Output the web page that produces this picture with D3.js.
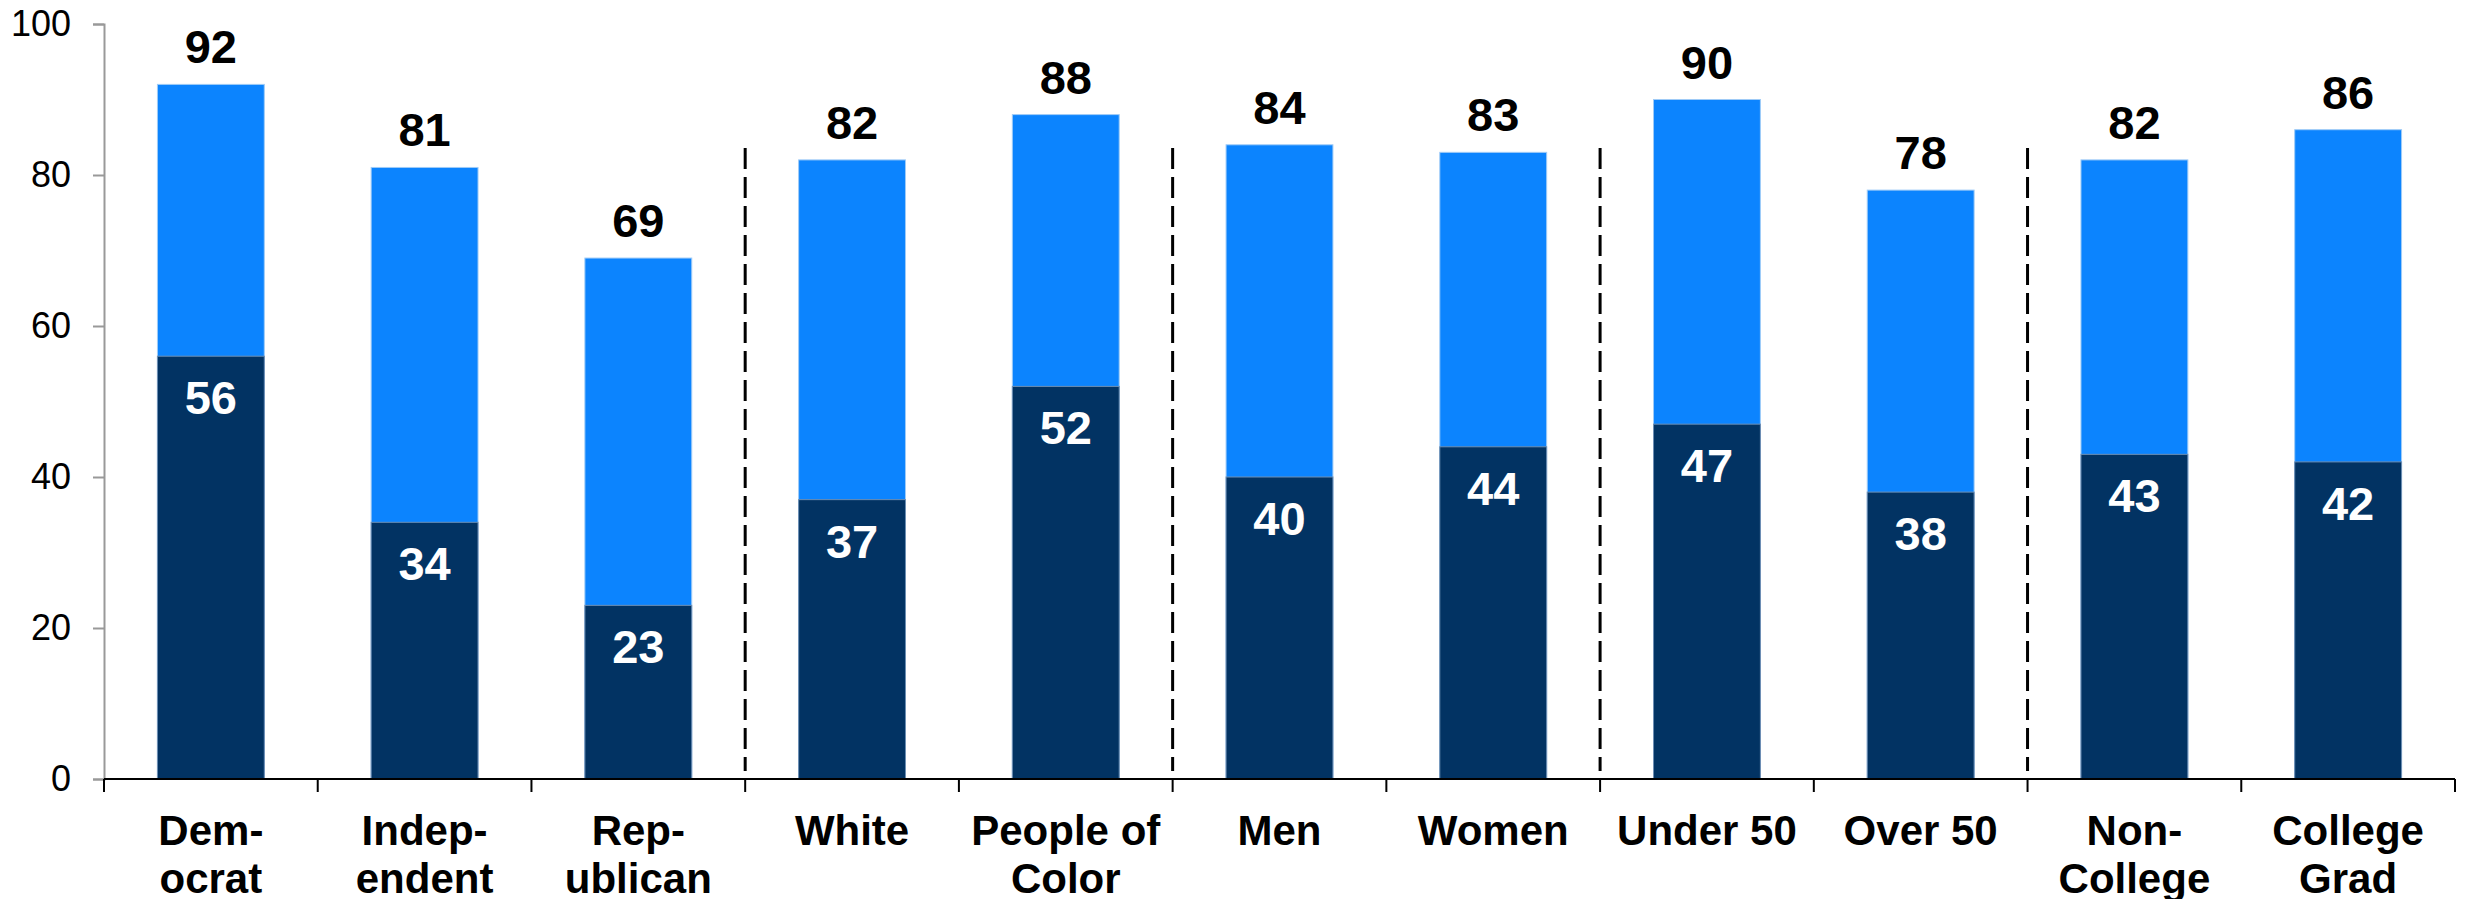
<!DOCTYPE html>
<html>
<head>
<meta charset="utf-8">
<script src="https://cdn.jsdelivr.net/npm/d3@7"></script>
<style>
  body { margin: 0; background: #fff; }
  svg { display: block; font-family: "Liberation Sans", Arial, sans-serif; }
</style>
</head>
<body>
<div id="chart"></div>
<script>
// categories, each label split into its lines
var categories = ["Democrat", "Independent", "Republican", "White", "People of Color",
                  "Men", "Women", "Under 50", "Over 50", "Non-College", "College Grad"]
var labelLines = [["Dem-", "ocrat"], ["Indep-", "endent"], ["Rep-", "ublican"], ["White"],
                  ["People of", "Color"], ["Men"], ["Women"], ["Under 50"], ["Over 50"],
                  ["Non-", "College"], ["College", "Grad"]]
var totals = [92, 81, 69, 82, 88, 84, 83, 90, 78, 82, 86]   // light bar, full height
var strong = [56, 34, 23, 37, 52, 40, 44, 47, 38, 43, 42]   // dark part
var yTicks = [0, 20, 40, 60, 80, 100]
var dividersAfter = [2, 4, 6, 8]   // dashed separators after these categories

var W = 2473, H = 899
var margin = {top: 24, right: 18, bottom: 120, left: 104}

var svg = d3.select("#chart").append("svg")
            .attr("width", W)
            .attr("height", H)

var x = d3.scaleBand()
          .domain(categories)
          .range([margin.left, W - margin.right])
          .paddingInner(0.5)
          .paddingOuter(0.25)

var y = d3.scaleLinear()
          .domain([0, 100])
          .range([H - margin.bottom, margin.top])

//y axis
var yAxis = svg.append("g")
               .attr("transform", `translate(${margin.left},0)`)
               .call(d3.axisLeft(y).tickValues(yTicks).tickSize(11).tickPadding(22))
yAxis.select(".domain").attr("stroke", "#999").attr("stroke-width", 2)
yAxis.selectAll(".tick line").attr("stroke", "#999").attr("stroke-width", 2)
yAxis.selectAll(".tick text")
     .style("font-size", "36px")
     .style("font-family", "Liberation Sans, Arial, sans-serif")
     .attr("fill", "#000")

//bars: light total first, dark part on top of it
var groups = svg.append("g").selectAll("g")
                .data(categories)
                .enter()
                .append("g")

groups.append("rect")
      .attr("x", function(d){ return x(d) })
      .attr("width", x.bandwidth())
      .attr("y", function(d,i){ return y(totals[i]) })
      .attr("height", function(d,i){ return y(0) - y(totals[i]) })
      .style("fill", "#0c84fe")
      .style("stroke", "#9fcbf7")
      .style("stroke-width", 1)

groups.append("rect")
      .attr("x", function(d){ return x(d) })
      .attr("width", x.bandwidth())
      .attr("y", function(d,i){ return y(strong[i]) })
      .attr("height", function(d,i){ return y(0) - y(strong[i]) })
      .style("fill", "#023363")
      .style("stroke", "#6f8fb3")
      .style("stroke-width", 1)

//value labels
groups.append("text")
      .text(function(d,i){ return totals[i] })
      .attr("x", function(d){ return x(d) + x.bandwidth() / 2 })
      .attr("y", function(d,i){ return y(totals[i]) - 21 })
      .attr("text-anchor", "middle")
      .style("font-size", "47px")
      .style("font-weight", "bold")
      .style("fill", "#000")

groups.append("text")
      .text(function(d,i){ return strong[i] })
      .attr("x", function(d){ return x(d) + x.bandwidth() / 2 })
      .attr("y", function(d,i){ return y(strong[i]) + 58 })
      .attr("text-anchor", "middle")
      .style("font-size", "47px")
      .style("font-weight", "bold")
      .style("fill", "#fff")

//dashed separators
svg.append("g").selectAll("line")
   .data(dividersAfter)
   .enter()
   .append("line")
   .attr("x1", function(d){ return x(categories[d]) + x.step() * 0.75 })
   .attr("x2", function(d){ return x(categories[d]) + x.step() * 0.75 })
   .attr("y1", 148)
   .attr("y2", y(0) - 8)
   .style("stroke", "#000")
   .style("stroke-width", 3)
   .style("stroke-dasharray", "21,8")

//x axis with ticks on category boundaries
var boundaries = d3.range(categories.length + 1).map(function(i){
  return margin.left + i * x.step()
})
svg.append("line")
   .attr("x1", margin.left)
   .attr("x2", boundaries[boundaries.length - 1])
   .attr("y1", y(0))
   .attr("y2", y(0))
   .style("stroke", "#000")
   .style("stroke-width", 2)
svg.append("g").selectAll("line")
   .data(boundaries)
   .enter()
   .append("line")
   .attr("x1", function(d){ return d })
   .attr("x2", function(d){ return d })
   .attr("y1", y(0))
   .attr("y2", y(0) + 13)
   .style("stroke", "#000")
   .style("stroke-width", 2)

//category labels
var catLabels = svg.append("g").selectAll("text")
                   .data(categories)
                   .enter()
                   .append("text")
                   .attr("text-anchor", "middle")
                   .style("font-size", "42px")
                   .style("font-weight", "bold")
                   .style("fill", "#000")

catLabels.selectAll("tspan")
         .data(function(d,i){ return labelLines[i].map(function(t){ return {t: t, c: d} }) })
         .enter()
         .append("tspan")
         .attr("x", function(d){ return x(d.c) + x.bandwidth() / 2 })
         .attr("y", function(d,j){ return 845 + j * 48 })
         .text(function(d){ return d.t })
</script>
</body>
</html>
